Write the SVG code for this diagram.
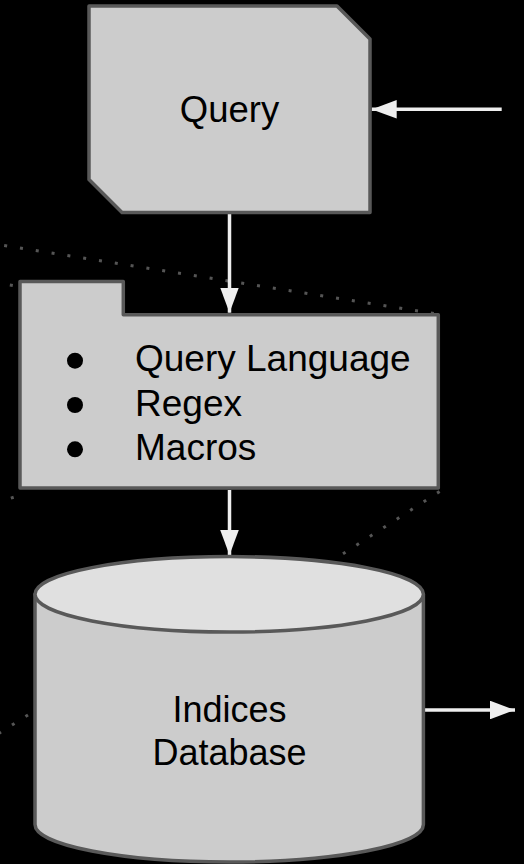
<svg xmlns="http://www.w3.org/2000/svg" width="524" height="864" viewBox="0 0 524 864">
  <style>
    .shape { fill: #cccccc; stroke: #595959; stroke-width: 3.5; stroke-linejoin: round; }
    .lid { fill: #e0e0e0; stroke: #595959; stroke-width: 3.5; }
    .label { font-family: "Liberation Sans", Arial, sans-serif; font-size: 36px; fill: #000000; }
    .item { font-size: 37px; }
    .flow { stroke: #eeeeee; stroke-width: 3.5; fill: none; marker-end: url(#head); }
    .guide { stroke: #555555; stroke-width: 3; stroke-dasharray: 3 13; fill: none; }
  </style>
  <defs>
    <marker id="head" markerUnits="userSpaceOnUse" viewBox="0 0 25 18.6" refX="25" refY="9.3" markerWidth="25" markerHeight="18.6" orient="auto">
      <path d="M0,0 L25,9.3 L0,18.6 Z" fill="#eeeeee"/>
    </marker>
  </defs>
  <rect width="524" height="864" fill="#000000"/>

  <!-- dotted guide lines -->
  <g id="guides">
    <path class="guide" d="M433.8,313.5 L-20,241.6"/>
    <path class="guide" d="M12.8,285.5 L-20,280"/>
    <path class="guide" d="M13.7,497.2 L-20,508"/>
    <path class="guide" d="M439.6,491.5 L343,553.8"/>
    <path class="guide" d="M28,714.9 L-20,745.4"/>
  </g>

  <!-- connectors -->
  <g id="connectors">
    <path class="flow" d="M501.7,109.3 L371.7,109.3"/>
    <path class="flow" d="M229.5,214 L229.5,312.7"/>
    <path class="flow" d="M229.5,490 L229.5,555"/>
    <path class="flow" d="M425,710 L515,710"/>
  </g>

  <g id="query">
    <polygon class="shape" points="89,6 337,6 370,39 370,212.5 122,212.5 89,179.5"/>
    <text class="label" x="229.5" y="122" text-anchor="middle" style="font-size:36.5px">Query</text>
  </g>

  <g id="parser">
    <path class="shape" d="M20,281.5 L123.3,281.5 L123.3,314.7 L438.3,314.7 L438.3,488 L20,488 Z"/>
    <circle cx="75" cy="360.7" r="8" fill="#000000"/>
    <circle cx="75" cy="405" r="8" fill="#000000"/>
    <circle cx="75" cy="449.3" r="8" fill="#000000"/>
    <text class="label item" x="135" y="371">Query Language</text>
    <text class="label item" x="135" y="415.5">Regex</text>
    <text class="label item" x="135" y="460">Macros</text>
  </g>

  <g id="indices-db">
    <path class="shape" d="M35,594.3 L35,824.5 A194.2,37.5 0 0 0 423.4,824.5 L423.4,594.3 Z"/>
    <ellipse class="lid" cx="229.2" cy="594.3" rx="194.2" ry="37.7"/>
    <text class="label" x="229.5" y="721.7" text-anchor="middle">Indices</text>
    <text class="label" x="229.5" y="765" text-anchor="middle">Database</text>
  </g>
</svg>
